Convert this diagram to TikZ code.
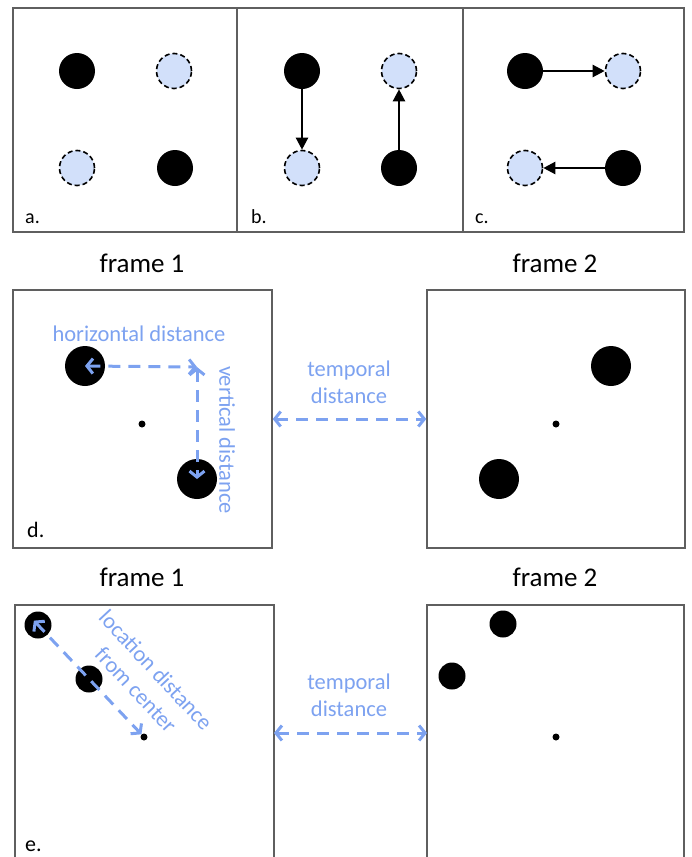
\documentclass[tikz,border=0pt]{standalone}
\usepackage{fontspec}
\setmainfont{Carlito}
\usetikzlibrary{arrows.meta}
\definecolor{lblue}{RGB}{210,224,250}
\definecolor{dblue}{RGB}{125,162,240}
\definecolor{frmgray}{RGB}{95,95,95}
\begin{document}
\begin{tikzpicture}[x=1pt,y=-1pt,
  frm/.style={draw=frmgray,line width=1.5pt},
  bdot/.style={circle,fill=black,inner sep=0pt,minimum size=36pt},
  ldot/.style={circle,fill=lblue,draw=black,line width=1.6pt,dash pattern=on 5pt off 3pt,inner sep=0pt,minimum size=35pt},
  big/.style={circle,fill=black,inner sep=0pt,minimum size=40pt},
  mid/.style={circle,fill=black,inner sep=0pt,minimum size=27pt},
  cdot/.style={circle,fill=black,inner sep=0pt,minimum size=7pt},
  blk/.style={-{Triangle[length=12pt,width=12pt]},line width=2.3pt},
  blu/.style={{Straight Barb[length=6pt,width=15pt]}-{Straight Barb[length=6pt,width=15pt]},draw=dblue,line width=3pt,dash pattern=on 12pt off 8pt},
  bluetxt/.style={font=\fontsize{22.5}{27}\selectfont,text=dblue,inner sep=0pt},
  plab/.style={font=\fontsize{20}{24}\selectfont,anchor=base west,inner sep=0pt},
  ftitle/.style={font=\fontsize{27}{32}\selectfont,inner sep=0pt}
]
\useasboundingbox (0,0) rectangle (691,857);

% ---------- top row ----------
\draw[frm] (13,8) rectangle (684,232);
\draw[frm] (237,8) -- (237,232);
\draw[frm] (463,8) -- (463,232);

% panel a
\node[bdot] (a1) at (77,71) {};
\node[ldot] (a2) at (174,71) {};
\node[ldot] (a3) at (77,168) {};
\node[bdot] (a4) at (175,168) {};
\node[plab] (la) at (25,223) {a.};

% panel b
\node[bdot] (b1) at (302,71) {};
\node[ldot] (b2) at (399,71) {};
\node[ldot] (b3) at (302,168) {};
\node[bdot] (b4) at (399,168) {};
\draw[blk] (b1) -- (b3);
\draw[blk] (b4) -- (b2);
\node[plab] (lb) at (251,223) {b.};

% panel c
\node[bdot] (c1) at (525,71) {};
\node[ldot] (c2) at (623,71) {};
\node[ldot] (c3) at (525,168) {};
\node[bdot] (c4) at (623,168) {};
\draw[blk] (c1) -- (c2);
\draw[blk] (c4) -- (c3);
\node[plab] (lc) at (475,223) {c.};

% ---------- row d ----------
\node[ftitle] (t1) at (142,263) {frame 1};
\node[ftitle] (t2) at (555,263) {frame 2};

\node[frm,minimum width=259pt,minimum height=258pt,inner sep=0pt] (fd1) at (142.5,419) {};
\node[frm,minimum width=258pt,minimum height=258pt,inner sep=0pt] (fd2) at (556,419) {};

\node[big] (d1) at (85,366) {};
\node[big] (d2) at (197,479) {};
\node[cdot] (d0) at (142,424) {};
\coordinate (dc) at (197,367);
\draw[blu] (d1.center) -- (dc);
\draw[blu] (dc) -- (d2.center);
\node[bluetxt] (hd) at (139,334) {horizontal distance};
\node[bluetxt,rotate=-90] (vd) at (227,440) {vertical distance};
\node[plab,font=\fontsize{22}{26}\selectfont] (ld) at (27,537) {d.};

\node[big] (g1) at (611,366) {};
\node[big] (g2) at (499,479) {};
\node[cdot] (g0) at (556,424) {};

\node[bluetxt,align=center] (td) at (349,382) {temporal\\distance};
\draw[blu] (fd1.east) -- (fd2.west);

% ---------- row e ----------
\node[ftitle] (t3) at (142,577) {frame 1};
\node[ftitle] (t4) at (555,577) {frame 2};

\coordinate (e1a) at (15,860);
\coordinate (e1b) at (15,605);
\coordinate (e1c) at (274,605);
\coordinate (e1d) at (274,860);
\draw[frm] (e1a) -- (e1b) -- (e1c) -- (e1d);
\coordinate (e2a) at (427,860);
\coordinate (e2b) at (427,605);
\coordinate (e2c) at (684,605);
\coordinate (e2d) at (684,860);
\draw[frm] (e2a) -- (e2b) -- (e2c) -- (e2d);

\node[mid] (e1) at (38,625) {};
\node[mid] (e2) at (89,679) {};
\node[cdot] (e0) at (144,737) {};
\draw[blu,shorten <=-6pt] (e1.center) -- (e0);
\node[bluetxt,rotate=-47] (ld1) at (156,670) {location distance};
\node[bluetxt,rotate=-47] (ld2) at (136,690) {from center};
\node[plab,font=\fontsize{22}{26}\selectfont] (le) at (25,851) {e.};

\node[mid] (h1) at (503,624) {};
\node[mid] (h2) at (452,676) {};
\node[cdot] (h0) at (556,737) {};

\coordinate (ea) at (274,733);
\coordinate (eb) at (427,733);
\node[bluetxt,align=center] (te) at (349,695) {temporal\\distance};
\draw[blu] (ea) -- (eb);
\end{tikzpicture}
\end{document}
